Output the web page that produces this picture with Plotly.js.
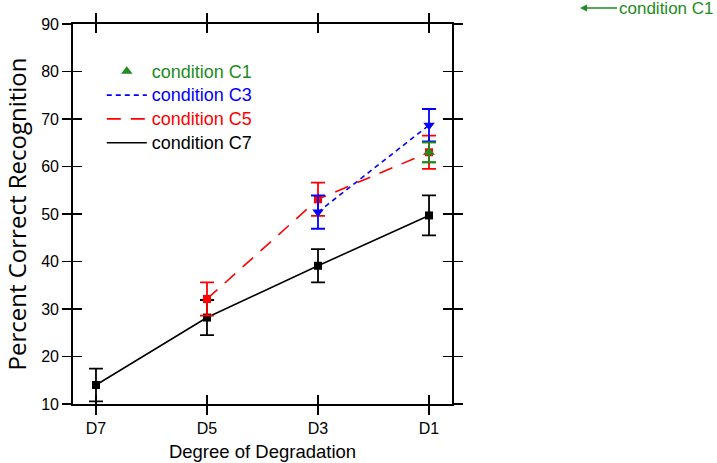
<!DOCTYPE html>
<html>
<head>
<meta charset="utf-8">
<script src="https://cdn.plot.ly/plotly-3.0.1.min.js"></script>
<style>html,body{margin:0;padding:0;background:#fff;}#chart{width:717px;height:463px;}</style>
</head>
<body>
<div id="chart"></div>
<script>
const categories = ['D7', 'D5', 'D3', 'D1'];
const catPos = [0, 1, 2, 3];

const c1Values = [null, null, null, 63.0];
const c1Errors = [0, 0, 0, 2.1];
const c3Values = [null, null, 50.4, 68.7];
const c3Errors = [0, 0, 3.5, 3.4];
const c5Values = [null, 32.1, 53.1, 63.0];
const c5Errors = [0, 3.5, 3.5, 3.5];
const c7Values = [14.0, 28.2, 39.1, 49.7];
const c7Errors = [3.45, 3.7, 3.5, 4.2];

const yTicks = [10, 20, 30, 40, 50, 60, 70, 80, 90];

const GREEN = '#228B22', BLUE = '#0000FF', RED = '#FF0000', BLACK = '#000000';

function label(txt, col) { return '<span style="color:' + col + ';font-size:18px">' + txt + '</span>'; }

function markerTrace(vals, errs, col, sym, size) {
  return {
    x: catPos, y: vals, type: 'scatter', mode: 'markers', showlegend: false,
    marker: {color: col, symbol: sym, size: size},
    error_y: {type: 'data', array: errs, visible: true, color: col, thickness: 1.8, width: 7},
    hoverinfo: 'skip'
  };
}
function lineTrace(vals, col, dash, name) {
  return {
    x: catPos, y: vals, type: 'scatter', mode: 'lines', name: label(name, col),
    line: {color: col, width: 1.6, dash: dash}, connectgaps: false, hoverinfo: 'skip'
  };
}

const traces = [
  {x: catPos, y: c1Values, type: 'scatter', mode: 'markers', name: label('condition C1', GREEN),
   marker: {color: GREEN, symbol: 'triangle-up', size: 10},
   error_y: {type: 'data', array: c1Errors, visible: true, color: GREEN, thickness: 1.8, width: 7}},
  lineTrace(c3Values, BLUE, '5px,4px', 'condition C3'),
  lineTrace(c5Values, RED, '14px,10px', 'condition C5'),
  lineTrace(c7Values, BLACK, 'solid', 'condition C7'),
  markerTrace(c7Values, c7Errors, BLACK, 'square', 8),
  markerTrace(c5Values, c5Errors, RED, 'square', 8),
  markerTrace(c3Values, c3Errors, BLUE, 'triangle-down', 10),
  markerTrace(c1Values, c1Errors, GREEN, 'triangle-up', 10)
];

const xr = [-0.207, 3.207];
const yr = [10, 90];
const tickFont = {family: 'Liberation Sans, Arial, sans-serif', size: 16, color: '#000'};
const titleFont = {family: 'Liberation Sans, Arial, sans-serif', size: 18.5, color: '#000'};

const layout = {
  width: 717, height: 463,
  paper_bgcolor: '#fff', plot_bgcolor: '#fff',
  margin: {l: 73, r: 265, t: 24, b: 59},
  showlegend: true,
  legend: {x: 0.076, y: 0.92, xanchor: 'left', yanchor: 'top', bgcolor: 'rgba(0,0,0,0)',
           font: {family: 'Liberation Sans, Arial, sans-serif', size: 16}, tracegroupgap: 0, itemwidth: 40},
  xaxis: {range: xr, tickvals: catPos, ticktext: categories, showgrid: false, zeroline: false,
          showline: true, linecolor: '#000', linewidth: 1.8, mirror: 'ticks',
          ticks: 'outside', ticklen: 9, tickwidth: 1.5, tickcolor: '#000', tickfont: tickFont,
          title: {text: 'Degree of Degradation', font: titleFont, standoff: 9}},
  yaxis: {range: yr, tickvals: yTicks, showgrid: false, zeroline: false,
          showline: true, linecolor: '#000', linewidth: 1.8, mirror: 'ticks',
          ticks: 'outside', ticklen: 9, tickwidth: 1.5, tickcolor: '#000', tickfont: tickFont,
          title: {text: 'Percent Correct Recognition', font: {family: 'Open Sans, sans-serif', size: 24, color: '#000'}, standoff: 11}},
  xaxis2: {overlaying: 'x', range: xr, tickvals: catPos, showticklabels: false, showgrid: false, zeroline: false,
           showline: false, mirror: 'ticks', ticks: 'inside', ticklen: 9, tickwidth: 1.5, tickcolor: '#000'},
  yaxis2: {overlaying: 'y', range: yr, tickvals: yTicks, showticklabels: false, showgrid: false, zeroline: false,
           showline: false, mirror: 'ticks', ticks: 'inside', ticklen: 9, tickwidth: 1.5, tickcolor: '#000'},
  annotations: [{
    xref: 'paper', yref: 'paper', x: (580 - 73) / 379, y: (463 - 59 - 8) / 380,
    axref: 'pixel', ayref: 'pixel', ax: 86, ay: 0,
    text: 'condition C1', showarrow: true, arrowhead: 2, arrowsize: 1, arrowwidth: 1.4,
    arrowcolor: GREEN, font: {family: 'Liberation Sans, Arial, sans-serif', size: 17, color: GREEN}
  }]
};

traces.push({x: [], y: [], xaxis: 'x2', yaxis: 'y2', type: 'scatter', showlegend: false});

Plotly.newPlot('chart', traces, layout, {displayModeBar: false, staticPlot: true});
</script>
</body>
</html>
